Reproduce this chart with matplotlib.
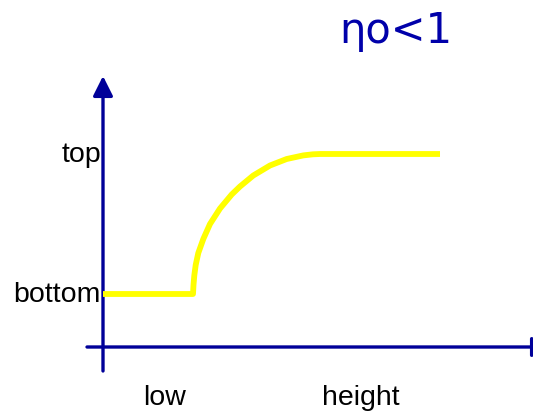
import matplotlib
matplotlib.use('Agg')
import matplotlib.pyplot as plt

plt.rcParams.update({
    'font.family': ['Liberation Sans', 'DejaVu Sans'],
})

# curve (units: px right of / above the axis origin)
curve_x = [0, 90, 90.5, 91.3, 92.7, 95.3, 100.3, 107, 117, 128.7, 137, 150.3,
           167, 183.7, 200.3, 210, 217, 337]
curve_y = [53, 53, 62, 71.5, 82, 94, 108, 123, 138.5, 152.5, 160.5, 171.5,
           181.5, 188, 191.6, 192.7, 193, 193]

level_labels = ['bottom', 'top']
level_y = [53, 193]
axis_labels = ['low', 'height']
axis_label_x = [62, 258]
title = 'ηo<1'

navy = '#000099'

fig = plt.figure(figsize=(5.33, 4.14), dpi=100)
ax = fig.add_axes([0, 0, 1, 1])
ax.set_xlim(-103, 430)
ax.set_ylim(-66, 348)
ax.axis('off')

# axes with arrow heads
arrow = dict(arrowstyle='-|>,head_width=0.6,head_length=1.2',
             color=navy, lw=2.4, shrinkA=0, shrinkB=0)
ax.annotate('', xy=(0, 271), xytext=(0, -24), arrowprops=arrow,
            annotation_clip=False)
ax.annotate('', xy=(449, 0), xytext=(-16, 0), arrowprops=arrow,
            annotation_clip=False)

ax.plot(curve_x, curve_y, color='#ffff00', lw=4.2, solid_joinstyle='round',
        solid_capstyle='butt', zorder=3)

for lab, y in zip(level_labels, level_y):
    ax.text(-2, y, lab, ha='right', va='center', fontsize=20.5, color='black')
for lab, x in zip(axis_labels, axis_label_x):
    ax.text(x, -50, lab, ha='center', va='center', fontsize=20.5, color='black')

ax.text(293, 317, title, ha='center', va='center', fontsize=30, color='#0000aa',
        family=['DejaVu Sans'])

fig.savefig('out.png', dpi=100, facecolor='white')
plt.close(fig)
